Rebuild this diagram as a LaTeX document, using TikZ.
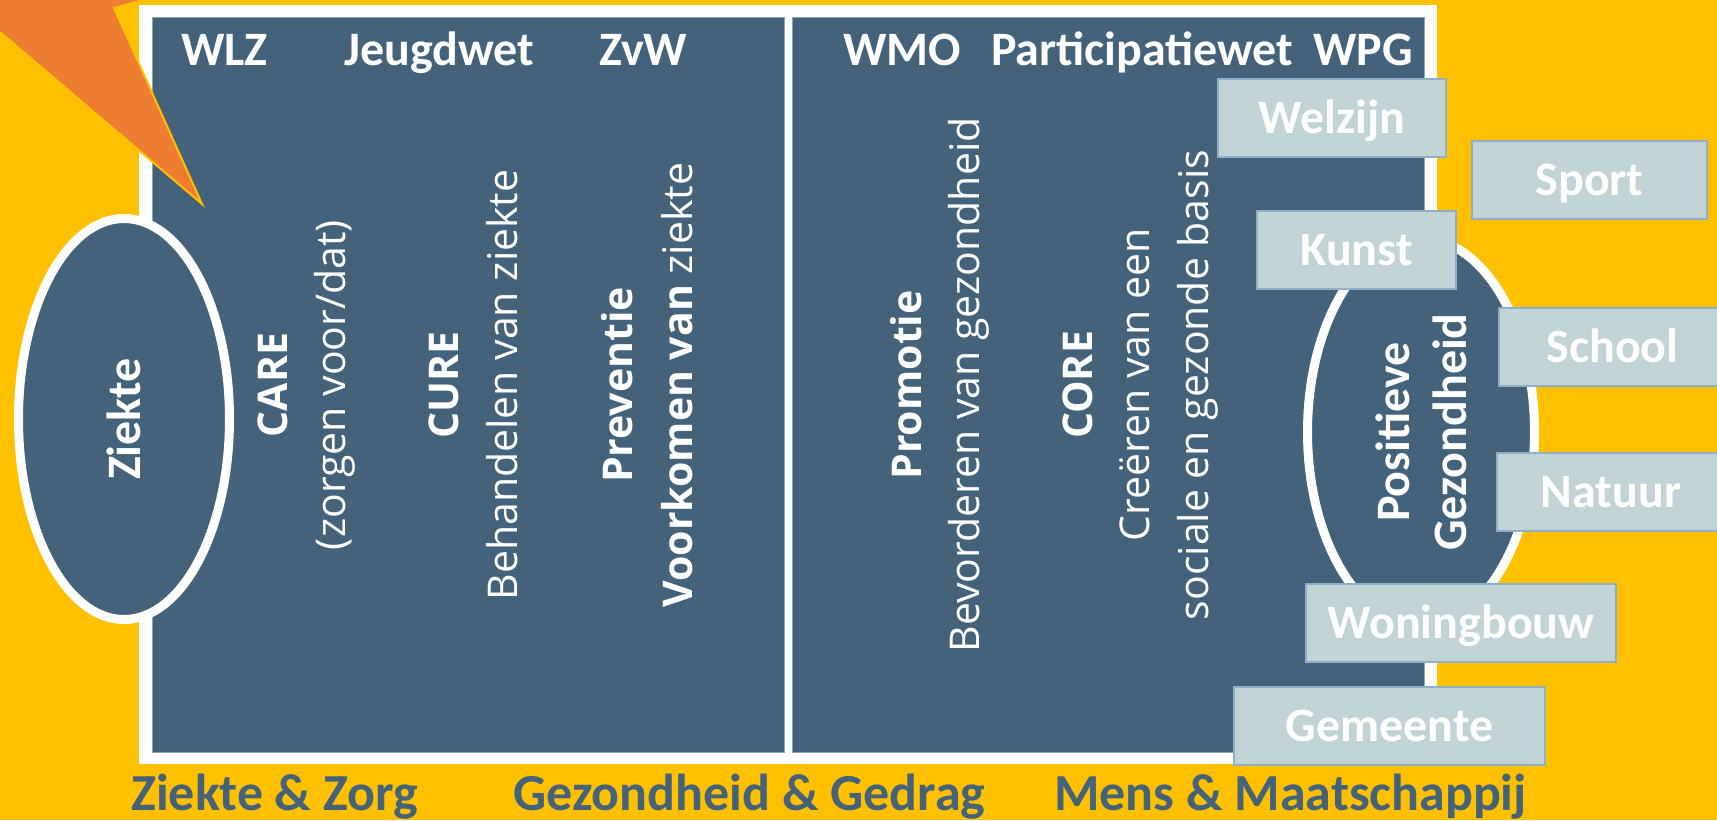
\documentclass[tikz,border=0pt]{standalone}
\usepackage{fontspec}
\setmainfont{Carlito}
\newfontfamily\descfamily{Open Sans}
\usetikzlibrary{shapes.geometric}

\definecolor{bgyellow}{HTML}{FFC000}
\definecolor{panelblue}{HTML}{44627A}
\definecolor{panelline}{HTML}{8CA5B8}
\definecolor{boxfill}{HTML}{C2D3D6}
\definecolor{boxline}{HTML}{8EAFC6}
\definecolor{calloutorange}{HTML}{ED7D31}

\newcommand*\labelfont{\fontsize{48}{57}\selectfont\bfseries}
\newcommand*\descfont{\descfamily\fontsize{41}{58}\selectfont}
\newcommand*\themefont{\fontsize{52}{60}\selectfont\bfseries}

\begin{document}
\begin{tikzpicture}[
    x=1pt, y=-1pt,
    panel/.style={rectangle, fill=panelblue, draw=panelline, line width=1, inner sep=0, outer sep=0},
    bubble/.style={ellipse, fill=panelblue, draw=white, line width=9, inner sep=0, rotate=90, text=white, font=\labelfont, align=center},
    law/.style={anchor=base west, inner sep=0, text=white, font=\labelfont},
    vhead/.style={rotate=90, anchor=base, inner sep=0, text=white, font=\descfont\bfseries},
    vdesc/.style={rotate=90, anchor=base, inner sep=0, text=white, font=\descfont},
    field/.style={rectangle, fill=boxfill, draw=boxline, line width=1.5, inner sep=0, minimum height=78, text height=30, text depth=0, text=white, font=\labelfont},
    themelabel/.style={anchor=base west, inner sep=0, text=panelblue, font=\themefont},
]

% background and frame
\fill[bgyellow] (0,0) rectangle (1717,820);
\useasboundingbox (0,0) rectangle (1717,820);
\fill[white] (139,5) rectangle (1437,764);

\node[panel, minimum width=632, minimum height=735] (leftpanel) at (468,384.5) {};
\node[panel, minimum width=632, minimum height=735] (rightpanel) at (1108,384.5) {};

% callout corner
\fill[calloutorange] (0,0) -- (0,32) -- (202,204) -- (114,8) -- (143,0) -- cycle;
\draw[bgyellow, line width=2] (0,32) -- (202,204) -- (114,8) -- (143,0);

% the two ends
\node[bubble, minimum width=401, minimum height=211] (ziekte) at (124,419) {Ziekte};
\node[bubble, minimum width=387, minimum height=227] (positief) at (1421,432) {Positieve\\Gezondheid};

% laws on top
\node[law] (wlz) at (181,65) {WLZ};
\node[law] (jeugdwet) at (344,65) {Jeugdwet};
\node[law] (zvw) at (599,65) {ZvW};
\node[law] (wmo) at (843,65) {WMO};
\node[law] (participatiewet) at (991,65) {Participatiewet};
\node[law, anchor=base east] (wpg) at (1413,65) {WPG};

% vertical columns
\node[vhead] (care) at (287,385) {CARE};
\node[vdesc] (caretxt) at (345,385) {(zorgen voor/dat)};
\node[vhead] (cure) at (458,385) {CURE};
\node[vdesc] (curetxt) at (517,385) {Behandelen van ziekte};
\node[vhead] (preventie) at (632,385) {Preventie};
\node[vdesc] (preventietxt) at (692,385) {\textbf{Voorkomen van} ziekte};
\node[vhead] (promotie) at (921,385) {Promotie};
\node[vdesc] (promotietxt) at (979,385) {Bevorderen van gezondheid};
\node[vhead] (core) at (1092,385) {CORE};
\node[vdesc] (coretxt) at (1149,385) {Creëren van een};
\node[vdesc] (coretxtb) at (1208,385) {sociale en gezonde basis};

% domains around positieve gezondheid
\node[field, minimum width=228] (welzijn) at (1332,118) {Welzijn};
\node[field, minimum width=235] (sport) at (1589.5,180) {Sport};
\node[field, minimum width=199] (kunst) at (1356.5,250) {Kunst};
\node[field, minimum width=227] (school) at (1612.5,347) {School};
\node[field, minimum width=228] (natuur) at (1611,492) {Natuur};
\node[field, minimum width=310] (woningbouw) at (1461,623) {Woningbouw};
\node[field, minimum width=311] (gemeente) at (1389.5,726) {Gemeente};

% bottom
\node[themelabel] (zorg) at (131,810) {Ziekte \& Zorg};
\node[themelabel] (gedrag) at (513,810) {Gezondheid \& Gedrag};
\node[themelabel] (maatschappij) at (1054,810) {Mens \& Maatschappij};

\end{tikzpicture}
\end{document}
